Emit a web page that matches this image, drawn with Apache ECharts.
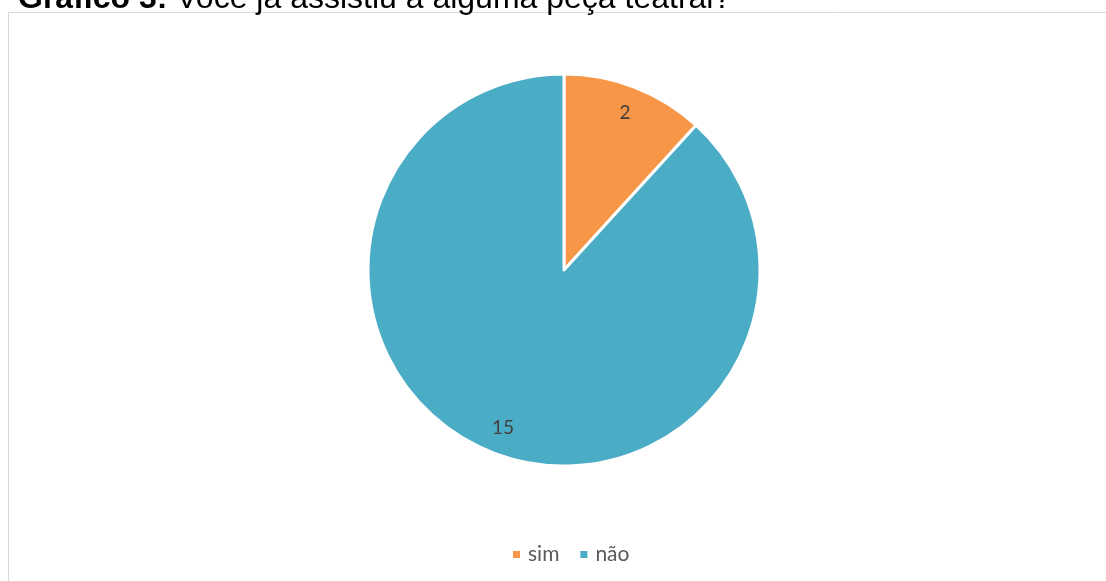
<!DOCTYPE html>
<html>
<head>
<meta charset="utf-8">
<script src="https://cdn.jsdelivr.net/npm/echarts@6/dist/echarts.min.js"></script>
<style>
  html, body { margin: 0; padding: 0; background: #ffffff; }
  #chart { width: 1106px; height: 581px; }
</style>
</head>
<body>
<div id="chart"></div>
<script>
// Answers to the survey question
const categories = ['sim', 'não'];
const counts = [2, 15];
const colors = ['#F79646', '#4BACC6'];

const pieData = categories.map((name, i) => ({ name, value: counts[i] }));

const chart = echarts.init(document.getElementById('chart'), null, { renderer: 'canvas' });

chart.setOption({
  animation: false,
  backgroundColor: '#ffffff',
  color: colors,
  graphic: [
    {
      type: 'rect',
      shape: { x: 8.5, y: 12.5, width: 1110, height: 600 },
      style: { fill: 'none', stroke: '#d9d9d9', lineWidth: 1 },
      z: 0
    },
    {
      type: 'text',
      left: 18,
      top: -17,
      style: {
        text: '{b|Gráfico 3:} {r|Você já assistiu a alguma peça teatral?}',
        rich: {
          b: { fontFamily: 'Liberation Sans', fontWeight: 'bold', fontSize: 32, fill: '#000000' },
          r: { fontFamily: 'Liberation Sans', fontSize: 32, fill: '#000000' }
        },
        fontFamily: 'Liberation Sans',
        fontSize: 32
      },
      z: 10
    }
  ],
  legend: {
    top: 539,
    left: 506,
    itemWidth: 9,
    itemHeight: 9,
    itemGap: 19,
    icon: 'rect',
    textStyle: { fontFamily: 'Lato', fontSize: 21, color: '#595959', padding: [0, 0, 0, 2] },
    data: categories
  },
  series: [
    {
      type: 'pie',
      center: [564, 270],
      radius: [0, 196],
      startAngle: 90,
      clockwise: true,
      data: pieData,
      itemStyle: { borderColor: '#ffffff', borderWidth: 3 },
      label: { show: false },
      labelLine: { show: false },
      emphasis: { disabled: true }
    },
    {
      // value labels sit near the rim of each slice
      type: 'pie',
      center: [564, 270],
      radius: [136, 196],
      startAngle: 90,
      clockwise: true,
      silent: true,
      data: pieData,
      itemStyle: { color: 'rgba(0,0,0,0)', borderWidth: 0 },
      label: {
        show: true,
        position: 'inside',
        formatter: '{c}',
        fontFamily: 'Lato',
        fontSize: 19,
        color: '#404040'
      },
      labelLine: { show: false },
      emphasis: { disabled: true }
    }
  ]
});
</script>
</body>
</html>
